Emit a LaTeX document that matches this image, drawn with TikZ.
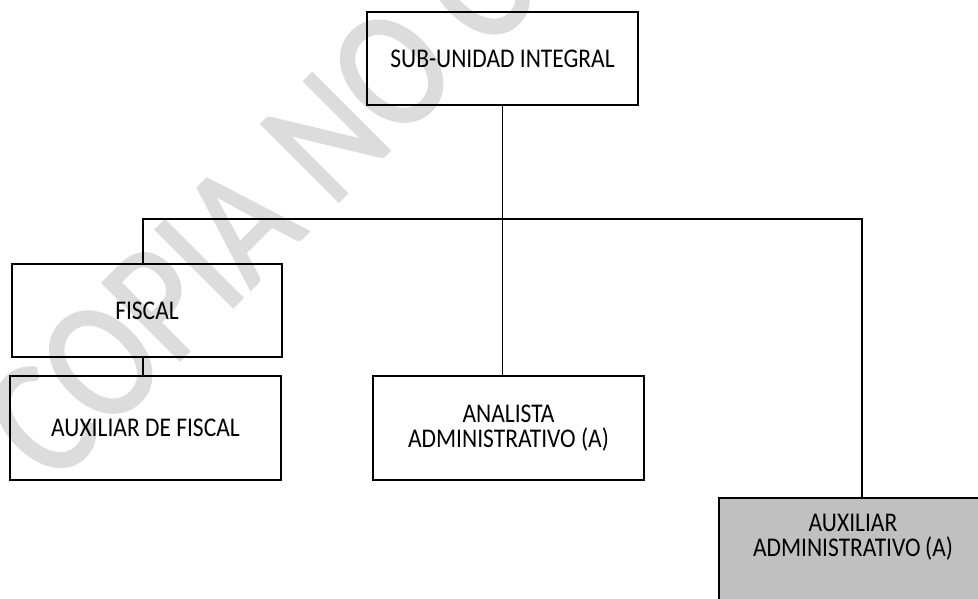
\documentclass[tikz,border=0pt]{standalone}
\usepackage{fontspec}
\setmainfont[FakeStretch=0.87]{Carlito}
\newfontfamily\wmfont[FakeStretch=0.84, FakeBold=1.5]{Carlito}
\definecolor{wmgray}{RGB}{220,220,220}
\definecolor{boxgray}{RGB}{192,192,192}
\begin{document}
\begin{tikzpicture}[x=1pt,y=-1pt,
  orgbox/.style={draw=black, line width=1.3pt, minimum width=271pt,
    align=center, inner sep=0pt, font=\fontsize{27}{25}\selectfont},
  boxlabel/.style={align=center, inner sep=0pt, font=\fontsize{27}{25}\selectfont},
  link/.style={draw=black, line width=1.3pt},
  wmark/.style={text=wmgray, inner sep=0pt, font=\wmfont\fontsize{170}{170}\selectfont}]
\useasboundingbox (0,0) rectangle (978,598);
\clip (0,0) rectangle (978,598);

% watermark across the sheet
\node[wmark, rotate=45, anchor=base west] (wm) at (52.7,487.3) {COPIA NO CONTROLADA};

% boxes
\node[orgbox, minimum height=93pt] (top) at (502.5,58.5) {SUB-UNIDAD INTEGRAL};
\node[orgbox, minimum width=270pt, minimum height=93pt] (fiscal) at (147,310.5) {FISCAL};
\node[orgbox, minimum height=104pt] (auxfis) at (145.5,428) {AUXILIAR DE FISCAL};
\node[orgbox, minimum height=104pt] (analista) at (508.5,428) {ANALISTA\\ADMINISTRATIVO (A)};
\node[orgbox, fill=boxgray, minimum height=104pt] (auxadm) at (854.5,550) {};
\node[boxlabel] (auxadmtxt) at (853,537.5) {AUXILIAR\\ADMINISTRATIVO\,(A)};

% connectors
\coordinate (jl) at (143,219);
\coordinate (jr) at (862,219);
\draw[link] (top.south) -- (top.south |- analista.north);
\draw[link] (jl |- fiscal.north) -- (jl) -- (jr) -- (jr |- auxadm.north);
\draw[link] (jl |- fiscal.south) -- (jl |- auxfis.north);
\end{tikzpicture}
\end{document}
